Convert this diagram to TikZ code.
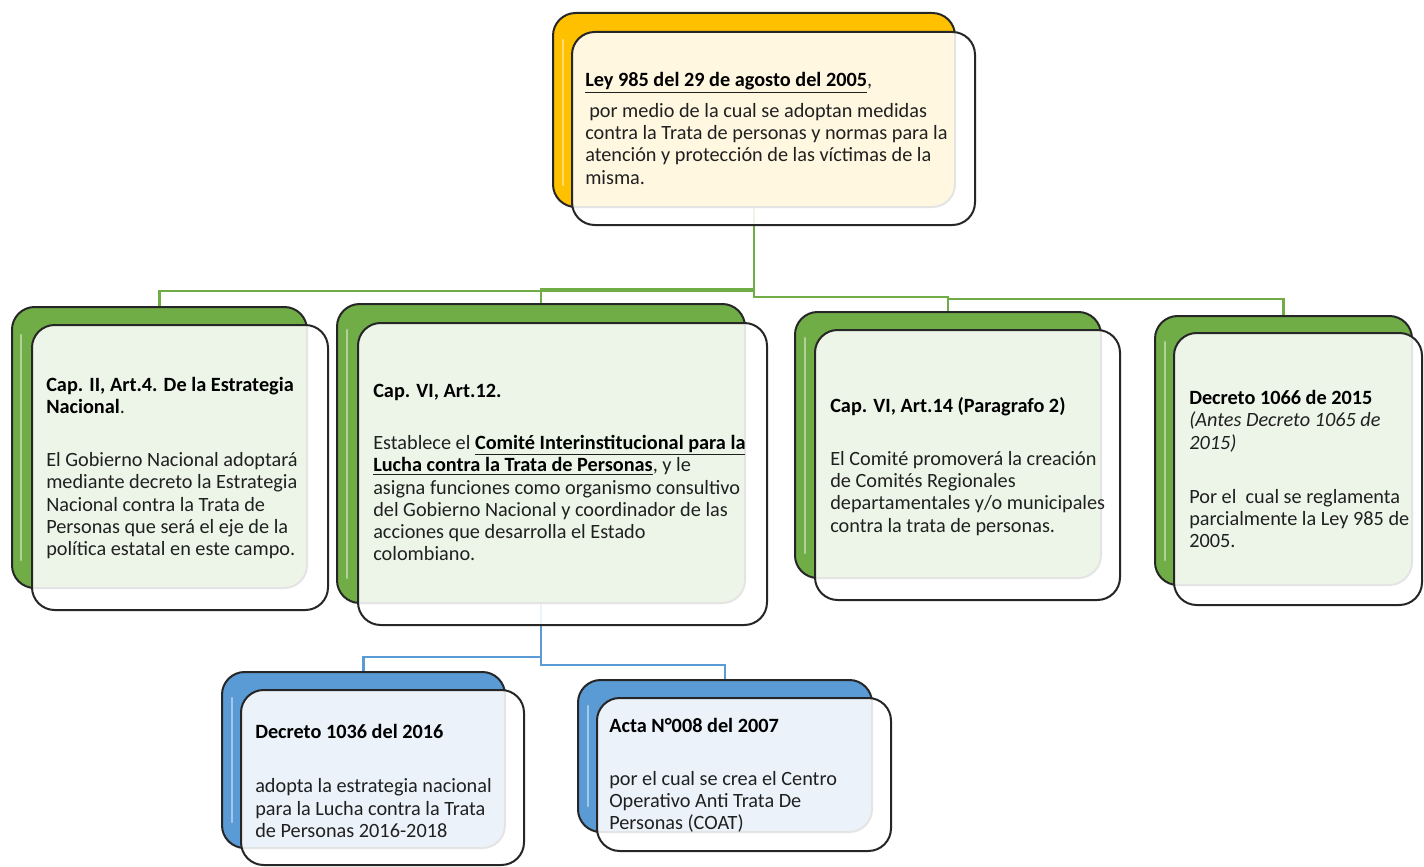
\documentclass[tikz,border=0pt]{standalone}
\usepackage{fontspec}
\setmainfont{Carlito}
\usetikzlibrary{fit}
\definecolor{gbk}{HTML}{70AD47}
\definecolor{ybk}{HTML}{FFC000}
\definecolor{bbk}{HTML}{5B9BD5}
\definecolor{gconnc}{HTML}{70AD47}
\definecolor{bconnc}{HTML}{5B9BD5}
\definecolor{txtc}{HTML}{202020}
\tikzset{
  backbox/.style={draw=black!85, line width=1.5pt, rounded corners=17pt, inner sep=0pt, fill=#1},
  frontbox/.style={draw=black!85, line width=1.5pt, rounded corners=17pt, inner sep=0pt, fill=white, fill opacity=0.88},
  shine/.style={draw=white, draw opacity=0.45, line width=2pt, line cap=round},
  gconn/.style={draw=gconnc, line width=2pt},
  bconn/.style={draw=bconnc, line width=2pt},
  txt/.style={anchor=north west, align=left, inner sep=0pt, text=txtc, font=\fontsize{15.2}{16.7}\selectfont},
}
\begin{document}
\begin{tikzpicture}[x=0.75pt,y=-0.75pt]
\useasboundingbox (0,0) rectangle (1424,867);
% levels of the connectors
\coordinate (yA) at (0,291);
\coordinate (yB) at (0,289);
\coordinate (yC) at (0,297);
\coordinate (yD) at (0,299);
\coordinate (yE) at (0,657);
\coordinate (yF) at (0,665);
% back boxes (invisible placeholders for connectors first)
\path (553,13) coordinate (tbnw) (955,207) coordinate (tbse);
\node[fit=(tbnw)(tbse), inner sep=0pt] (tb) {};
\node[fit={(12,307)(307,588)}, inner sep=0pt] (Ab) {};
\node[fit={(337,304)(745,603)}, inner sep=0pt] (Bb) {};
\node[fit={(795,312)(1101,578)}, inner sep=0pt] (Cb) {};
\node[fit={(1155,316)(1412,585)}, inner sep=0pt] (Db) {};
\node[fit={(222,672)(505,848)}, inner sep=0pt] (Eb) {};
\node[fit={(578,680)(872,832)}, inner sep=0pt] (Fb) {};
% connectors
\draw[gconn] (tb.center) -- (tb.center |- yA) -| (Ab.north);
\draw[gconn] (tb.center) -- (tb.center |- yB) -| (Bb.north);
\draw[gconn] (tb.center) -- (tb.center |- yC) -| (Cb.north);
\draw[gconn] (Cb.north |- yD) -| (Db.north);
\draw[bconn] (Bb.center) -- (Bb.center |- yE) -| (Eb.north);
\draw[bconn] (Bb.center) -- (Bb.center |- yF) -| (Fb.north);
% top box
\node[backbox=ybk, fit=(tbnw)(tbse)] (tbk) {};
\draw[shine] (563,40) -- (563,185);
\node[frontbox, fit={(572,32)(975,225)}] (tf) {};
% A
\node[backbox=gbk, fit={(12,307)(307,588)}] (Abk) {};
\draw[shine] (21,335) -- (21,560);
\node[frontbox, fit={(32,325)(328,610)}] (Af) {};
% B
\node[backbox=gbk, fit={(337,304)(745,603)}] (Bbk) {};
\draw[shine] (347,330) -- (347,578);
\node[frontbox, fit={(358,323)(767,625)}] (Bf) {};
% C
\node[backbox=gbk, fit={(795,312)(1101,578)}] (Cbk) {};
\draw[shine] (805,338) -- (805,553);
\node[frontbox, fit={(815,330)(1120,600)}] (Cf) {};
% D
\node[backbox=gbk, fit={(1155,316)(1412,585)}] (Dbk) {};
\draw[shine] (1165,342) -- (1165,560);
\node[frontbox, fit={(1174,333)(1422,605)}] (Df) {};
% E
\node[backbox=bbk, fit={(222,672)(505,848)}] (Ebk) {};
\draw[shine] (232,698) -- (232,822);
\node[frontbox, fit={(241,690)(524,865)}] (Ef) {};
% F
\node[backbox=bbk, fit={(578,680)(872,832)}] (Fbk) {};
\draw[shine] (588,706) -- (588,806);
\node[frontbox, fit={(597,698)(891,851)}] (Ff) {};
% texts
\node[txt] (tt) at (585,72) {\underline{\textbf{\color{black}Ley 985 del 29 de agosto del 2005}},\\[6.5pt]
\hspace*{3pt}por medio de la cual se adoptan medidas\\
contra la Trata de personas y normas para la\\
atención y protección de las víctimas de la\\
misma.};
\node[txt] (At) at (46,377) {\textbf{\color{black}Cap. II, Art.4. De la Estrategia}\\
\textbf{\color{black}Nacional}.\\[23pt]
El Gobierno Nacional adoptará\\
mediante decreto la Estrategia\\
Nacional contra la Trata de\\
Personas que será el eje de la\\
política estatal en este campo.};
\node[txt] (Bt) at (373,384) {\textbf{\color{black}Cap. VI, Art.12.}\\[22.3pt]
Establece el \underline{\textbf{\color{black}Comité Interinstitucional para la}}\\
\underline{\textbf{\color{black}Lucha contra la Trata de Personas}}, y le\\
asigna funciones como organismo consultivo\\
del Gobierno Nacional y coordinador de las\\
acciones que desarrolla el Estado\\
colombiano.};
\node[txt] (Ct) at (830,397) {\textbf{\color{black}Cap. VI, Art.14 (Paragrafo 2)}\\[23pt]
El Comité promoverá la creación\\
de Comités Regionales\\
departamentales y/o municipales\\
contra la trata de personas.};
\node[txt] (Dt) at (1189,390) {\textbf{\color{black}Decreto 1066 de 2015}\\
\textit{(Antes Decreto 1065 de}\\
\textit{2015)}\\[23.8pt]
Por el \ cual se reglamenta\\
parcialmente la Ley 985 de\\
2005.};
\node[txt] (Et) at (255,724) {\textbf{\color{black}Decreto 1036 del 2016}\\[24pt]
adopta la estrategia nacional\\
para la Lucha contra la Trata\\
de Personas 2016-2018};
\node[txt] (Ft) at (609,718) {\textbf{\color{black}Acta N°008 del 2007}\\[23pt]
por el cual se crea el Centro\\
Operativo Anti Trata De\\
Personas (COAT)};
\end{tikzpicture}
\end{document}
